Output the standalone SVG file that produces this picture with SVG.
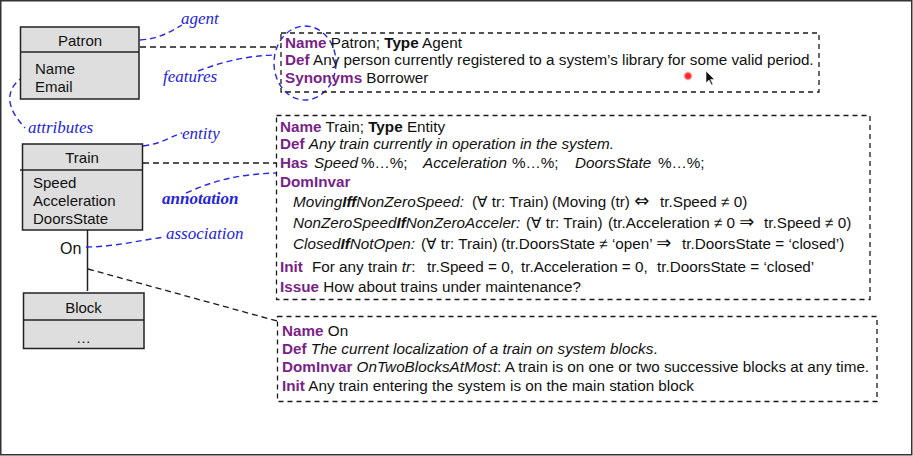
<svg xmlns="http://www.w3.org/2000/svg" width="913" height="456" viewBox="0 0 913 456">
<defs>
<style>
.cls{fill:#dedede;stroke:#222;stroke-width:1.5}
.cl{fill:none;stroke:#222;stroke-width:1.5}
.ann{fill:none;stroke:#1a1a1a;stroke-width:1.3;stroke-dasharray:5 4}
.con{fill:none;stroke:#1a1a1a;stroke-width:1.3;stroke-dasharray:6 4}
.blue{fill:none;stroke:#2828e0;stroke-width:1.4;stroke-dasharray:6 4}
.t{font-family:"Liberation Sans",Arial,"DejaVu Sans",sans-serif;font-size:15.25px;fill:#111}
.ct{font-family:"Liberation Sans",Arial,sans-serif;font-size:15px;fill:#111}
.k{font-weight:bold;fill:#7a1f88}
.b{font-weight:bold}
.i{font-style:italic}
.ar{font-family:"DejaVu Sans",sans-serif;font-size:18px}
.bl{font-family:"Liberation Serif","Times New Roman",serif;font-style:italic;font-size:17px;fill:#2424d8}
</style>
<radialGradient id="dot">
<stop offset="0" stop-color="#ff2020"/>
<stop offset="0.5" stop-color="#f03030"/>
<stop offset="1" stop-color="#ff8080" stop-opacity="0"/>
</radialGradient>
</defs>
<rect x="0.75" y="0.75" width="911" height="454" fill="#fff" stroke="#333" stroke-width="1.5"/>

<g id="connectors">
<path class="con" d="M140,47 H281"/>
<path class="con" d="M143,163 H277"/>
<path class="cl" d="M87.5,230 V291"/>
<path class="con" d="M88,269 L277,321"/>
</g>

<g id="blue-annotations">
<path class="blue" d="M140,40 C158,39 168,33 182,25"/>
<text class="bl" x="181" y="24">agent</text>
<path class="blue" d="M198,71 C222,62 245,56 274,55"/>
<ellipse class="blue" cx="305" cy="63" rx="31" ry="37"/>
<text class="bl" x="163" y="82">features</text>
<path class="blue" d="M33,72 C18,78 8,88 10,102 C12,114 20,122 25,128"/>
<text class="bl" x="28" y="133">attributes</text>
<path class="blue" d="M143,146 C160,144 168,138 182,133"/>
<text class="bl" x="182" y="139">entity</text>
<path class="blue" d="M186,193 C215,180 240,174 277,173"/>
<text class="bl b" x="162" y="204">annotation</text>
<path class="blue" d="M86,247 C115,247 140,240 165,237"/>
<text class="bl" x="166" y="239">association</text>
</g>

<g id="patron">
<rect class="cls" x="20.5" y="27" width="118.5" height="72"/>
<line class="cl" x1="20.5" y1="52" x2="139" y2="52"/>
<text class="ct" x="80" y="46" text-anchor="middle">Patron</text>
<text class="ct" x="35" y="74">Name</text>
<text class="ct" x="35" y="92">Email</text>
</g>

<g id="train">
<rect class="cls" x="22.5" y="144" width="120" height="86"/>
<line class="cl" x1="20" y1="170" x2="142.5" y2="170"/>
<text class="ct" x="82" y="163" text-anchor="middle">Train</text>
<text class="ct" x="33" y="188">Speed</text>
<text class="ct" x="33" y="206">Acceleration</text>
<text class="ct" x="33" y="224">DoorsState</text>
<text class="ct" x="60" y="254" style="font-size:16px">On</text>
</g>

<g id="block">
<rect class="cls" x="23.5" y="293" width="120.5" height="55.5"/>
<line class="cl" x1="23.5" y1="320" x2="144" y2="320"/>
<text class="ct" x="83.5" y="313" text-anchor="middle">Block</text>
<text class="ct" x="83.5" y="343" text-anchor="middle">…</text>
</g>

<g id="patron-annotation">
<rect class="ann" x="281" y="33" width="538" height="59"/>
<text class="t" x="285" y="48"><tspan class="k">Name</tspan> Patron; <tspan class="b">Type</tspan> Agent</text>
<text class="t" x="285" y="65"><tspan class="k">Def</tspan> Any person currently registered to a system’s library for some valid period.</text>
<text class="t" x="285" y="83"><tspan class="k">Synonyms</tspan> Borrower</text>
</g>

<g id="train-annotation">
<rect class="ann" x="276.5" y="115.5" width="593.5" height="184"/>
<text class="t" x="280" y="132"><tspan class="k">Name</tspan> Train; <tspan class="b">Type</tspan> Entity</text>
<text class="t" x="280" y="149"><tspan class="k">Def</tspan> <tspan class="i">Any train currently in operation in the system.</tspan></text>
<text class="t" y="168"><tspan x="280" class="k">Has</tspan><tspan x="314" class="i">Speed</tspan><tspan x="361">%…%;</tspan><tspan x="423" class="i">Acceleration</tspan><tspan x="512">%…%;</tspan><tspan x="575" class="i">DoorsState</tspan><tspan x="658">%…%;</tspan></text>
<text class="t" x="280" y="187"><tspan class="k">DomInvar</tspan></text>
<text class="t" y="207"><tspan x="293" class="i">Moving<tspan class="b">Iff</tspan>NonZeroSpeed:</tspan><tspan x="472">(∀ tr: Train)</tspan><tspan x="552">(Moving (tr) <tspan class="ar">⇔</tspan></tspan><tspan x="660">tr.Speed ≠ 0)</tspan></text>
<text class="t" y="228"><tspan x="293" class="i">NonZeroSpeed<tspan class="b">If</tspan>NonZeroAcceler:</tspan><tspan x="526">(∀ tr: Train)</tspan><tspan x="608">(tr.Acceleration ≠ 0 <tspan class="ar">⇒</tspan></tspan><tspan x="764">tr.Speed ≠ 0)</tspan></text>
<text class="t" y="249"><tspan x="421">(∀ tr: Train)</tspan><tspan x="293" class="i">Closed<tspan class="b">If</tspan>NotOpen:</tspan><tspan x="501">(tr.DoorsState ≠ ‘open’ <tspan class="ar">⇒</tspan></tspan><tspan x="682">tr.DoorsState = ‘closed’)</tspan></text>
<text class="t" y="272"><tspan x="280" class="k">Init</tspan><tspan x="312">For any train <tspan class="i">tr</tspan>:</tspan><tspan x="427">tr.Speed = 0,</tspan><tspan x="521">tr.Acceleration = 0,</tspan><tspan x="657">tr.DoorsState = ‘closed’</tspan></text>
<text class="t" x="280" y="292"><tspan class="k">Issue</tspan> How about trains under maintenance?</text>
</g>

<g id="on-annotation">
<rect class="ann" x="277.5" y="316.5" width="599.5" height="85"/>
<text class="t" x="282" y="336"><tspan class="k">Name</tspan> On</text>
<text class="t" x="282" y="354"><tspan class="k">Def</tspan> <tspan class="i">The current localization of a train on system blocks</tspan>.</text>
<text class="t" x="282" y="372"><tspan class="k">DomInvar</tspan> <tspan class="i">OnTwoBlocksAtMost</tspan>: A train is on one or two successive blocks at any time.</text>
<text class="t" x="282" y="391"><tspan class="k">Init</tspan> Any train entering the system is on the main station block</text>
</g>

<g id="pointer">
<circle cx="688" cy="76" r="5" fill="url(#dot)"/>
<path d="M706,71 L706,83 L709,80 L711.5,85 L713,84.3 L710.6,79.5 L714.5,79.5 Z" fill="#111" stroke="#fff" stroke-width="0.6"/>
</g>
</svg>
